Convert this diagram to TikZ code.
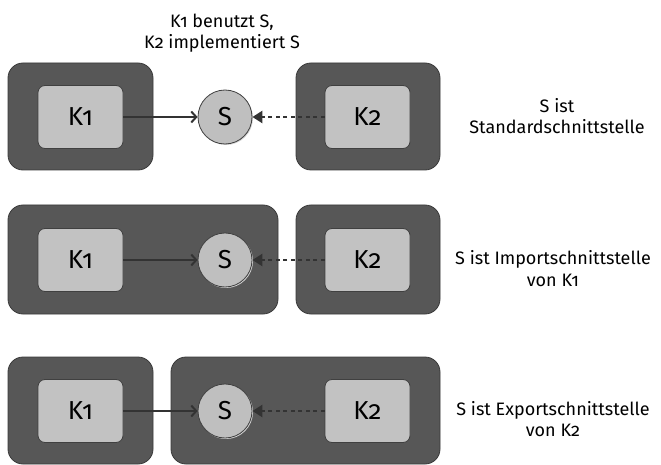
\documentclass[tikz,border=0pt]{standalone}
\usepackage{fontspec}
\setmainfont[Numbers=OldStyle]{Fira Sans}
\usetikzlibrary{arrows.meta,shadows}
\definecolor{outerfill}{HTML}{575757}
\definecolor{outerdraw}{HTML}{3A3A3A}
\definecolor{innerfill}{HTML}{C2C2C2}
\definecolor{innerdraw}{HTML}{404040}
\definecolor{linecol}{HTML}{333333}
\tikzset{
  outerbox/.style={draw=outerdraw, fill=outerfill, line width=0.8pt, rounded corners=15pt, inner sep=0pt},
  innerbox/.style={draw=innerdraw, fill=innerfill, line width=0.8pt, rounded corners=7pt, minimum width=85pt, minimum height=63pt, inner sep=0pt, font=\fontsize{26}{26}\selectfont},
  iface/.style={circle, draw=innerdraw, fill=innerfill!105, line width=0.8pt, minimum size=54pt, inner sep=0pt, font=\fontsize{26}{26}\selectfont,
    drop shadow={shadow xshift=1pt, shadow yshift=-1pt, fill=gray!35, opacity=1}},
  uses/.style={draw=linecol, line width=2.8pt, -{Straight Barb[length=5pt,width=11pt,line width=2pt]}},
  impl/.style={draw=linecol, line width=2.8pt, dash pattern=on 4pt off 3.5pt, -{Triangle[length=10pt,width=12pt]}},
  label/.style={align=center, font=\fontsize{18}{21.5}\selectfont, text=black, inner sep=0pt}
}
\begin{document}
\begin{tikzpicture}[x=1pt,y=-1pt]
\useasboundingbox (0,0) rectangle (661,465);
% Row 1
\node[outerbox, minimum width=145pt, minimum height=107pt] (o11) at (80.5,116.5) {};
\node[outerbox, minimum width=144pt, minimum height=107pt] (o12) at (368,116.5) {};
\node[innerbox] (k11) at (80.5,117) {K1};
\node[innerbox] (k12) at (367.5,117) {K2};
\node[iface] (s1) at (225,117) {S};
\draw[uses] (k11) -- (s1);
\draw[impl] (k12) -- (s1);
\node[label] (t0) at (222,33) {K1 benutzt S,\\K2 implementiert S};
\node[label] (t1) at (557,116) {S ist\\Standardschnittstelle};
% Row 2
\node[outerbox, minimum width=270pt, minimum height=109pt] (o21) at (143,259.5) {};
\node[outerbox, minimum width=144pt, minimum height=109pt] (o22) at (368,259.5) {};
\node[innerbox] (k21) at (80.5,260) {K1};
\node[innerbox] (k22) at (367.5,260) {K2};
\node[iface] (s2) at (225,260) {S};
\draw[uses] (k21) -- (s2);
\draw[impl] (k22) -- (s2);
\node[label] (t2) at (553,268.5) {S ist Importschnittstelle\\von K1};
% Row 3
\node[outerbox, minimum width=145pt, minimum height=107pt] (o31) at (80.5,410.5) {};
\node[outerbox, minimum width=269pt, minimum height=107pt] (o32) at (305.5,410.5) {};
\node[innerbox] (k31) at (80.5,411) {K1};
\node[innerbox] (k32) at (367.5,411) {K2};
\node[iface] (s3) at (225,411) {S};
\draw[uses] (k31) -- (s3);
\draw[impl] (k32) -- (s3);
\node[label] (t3) at (553,419) {S ist Exportschnittstelle\\von K2};
\end{tikzpicture}
\end{document}
